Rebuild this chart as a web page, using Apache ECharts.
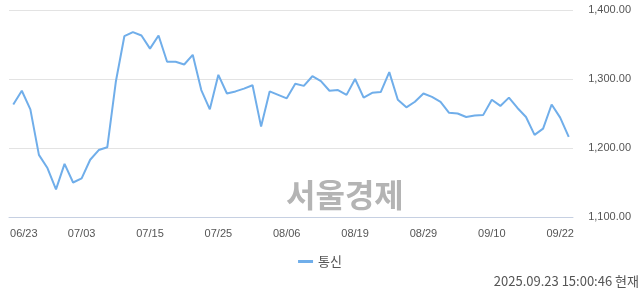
<!DOCTYPE html>
<html>
<head>
<meta charset="utf-8">
<script src="https://cdn.jsdelivr.net/npm/echarts@6/dist/echarts.min.js"></script>
<style>html,body{margin:0;padding:0;background:#fff;}#c{width:640px;height:294px;}</style>
</head>
<body>
<div id="c"></div>
<script>
const dates = ['06/23','06/24','06/25','06/26','06/27','06/30','07/01','07/02','07/03','07/04','07/07','07/08','07/09','07/10','07/11','07/14','07/15','07/16','07/17','07/18','07/21','07/22','07/23','07/24','07/25','07/28','07/29','07/30','07/31','08/01','08/04','08/05','08/06','08/07','08/08','08/11','08/12','08/13','08/14','08/18','08/19','08/20','08/21','08/22','08/25','08/26','08/27','08/28','08/29','09/01','09/02','09/03','09/04','09/05','09/08','09/09','09/10','09/11','09/12','09/15','09/16','09/17','09/18','09/19','09/22','09/23'];
const values = [1263,1283,1256,1190,1171,1140,1177,1150,1156,1183,1197,1201,1296,1362,1368,1363,1344,1363,1325,1325,1321,1335,1284,1256,1306,1279,1282,1286,1291,1231,1282,1277,1272,1293,1290,1304,1297,1283,1284,1277,1300,1273,1280,1281,1310,1270,1259,1267,1279,1274,1267,1251,1250,1245,1247,1248,1270,1261,1273,1258,1245,1219,1228,1263,1244,1216];
const seriesName = '통신';
const yTicks = [1100,1200,1300,1400];
const stamp = '2025.09.23 15:00:46 현재';
const watermark = '서울경제';

const chart = echarts.init(document.getElementById('c'), null, {renderer:'canvas'});
chart.setOption({
  animation:false,
  backgroundColor:'#fff',
  grid:{left:9, right:67, top:10, bottom:77, containLabel:false},
  legend:{
    data:[seriesName], bottom:21, left:'center',
    icon:'rect', itemWidth:15, itemHeight:3, itemGap:10,
    textStyle:{color:'#555', fontSize:13, fontFamily:'Noto Sans CJK KR'}
  },
  xAxis:{
    type:'category', data:dates, boundaryGap:true,
    axisLine:{lineStyle:{color:'#c6d0e2', width:1}},
    axisTick:{alignWithLabel:true, interval:7, length:9, lineStyle:{color:'#c6d0e2'}},
    axisLabel:{interval:7, color:'#555', fontSize:11, fontFamily:'Liberation Sans', margin:11,
      formatter:function(v, i){ return i===0 ? '{f|'+v+'}' : v; },
      rich:{f:{padding:[0,0,0,21], color:'#555', fontSize:11, fontFamily:'Liberation Sans'}}
    },
    splitLine:{show:false}
  },
  yAxis:{
    type:'value', position:'right', min:yTicks[0], max:yTicks[yTicks.length-1], interval:100,
    axisLine:{show:false}, axisTick:{show:false},
    axisLabel:{color:'#555', fontSize:11, fontFamily:'Liberation Sans', align:'right', margin:58,
      formatter:function(v){ return v.toLocaleString('en-US',{minimumFractionDigits:2, maximumFractionDigits:2}); }},
    splitLine:{lineStyle:{color:'#e3e3e3', width:1}}
  },
  graphic:[
    {type:'text', right:1, top:275, style:{text:stamp, fill:'#555', fontSize:13, fontFamily:'Noto Sans CJK KR'}},
    {type:'text', left:286, top:179, z:-1, style:{text:watermark, fill:'#b4b4b4', fontSize:32, fontWeight:'bold', fontFamily:'Noto Sans CJK KR'}}
  ],
  series:[{
    name:seriesName, type:'line', data:values, showSymbol:false, symbol:'none',
    lineStyle:{color:'#70aeea', width:2}, itemStyle:{color:'#70aeea'}
  }]
});
</script>
</body>
</html>
